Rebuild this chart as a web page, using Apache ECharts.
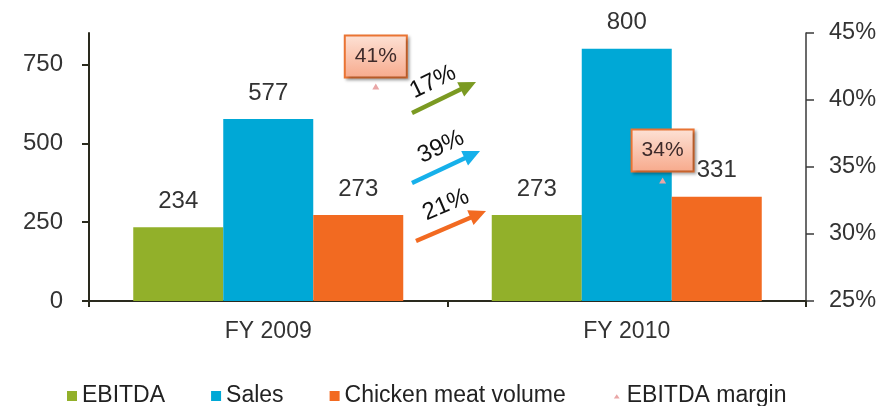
<!DOCTYPE html>
<html>
<head>
<meta charset="utf-8">
<script src="https://cdn.jsdelivr.net/npm/echarts@6/dist/echarts.min.js"></script>
<style>
html,body{margin:0;padding:0;background:#fff;}
#chart{width:885px;height:406px;}
</style>
</head>
<body>
<div id="chart"></div>
<script>
const categories = ['FY 2009', 'FY 2010'];
const ebitda = [234, 273];
const sales = [577, 800];
const chickenVolume = [273, 331];
const ebitdaMargin = [41, 34];
const growthLabels = ['17%', '39%', '21%'];
const leftTicks = [0, 250, 500, 750];
const rightTicks = [25, 30, 35, 40, 45];

const FONT = '"Liberation Sans", Arial, sans-serif';
const TXT = '#333';
const GREEN = '#92b02a', BLUE = '#00a8d6', ORANGE = '#f26a21';

const chart = echarts.init(document.getElementById('chart'), null, {renderer: 'canvas'});

const marginSlots = [0.4, 0.8];

function barLabel() {
  return {show: true, position: 'top', distance: 14, fontSize: 24, color: TXT, fontFamily: FONT};
}

function arrow(x1, y1, x2, y2, color, text, tx, ty) {
  const L = Math.hypot(x2 - x1, y2 - y1);
  const rot = Math.atan2(-(y2 - y1), x2 - x1);
  return [{
    type: 'group', x: x1, y: y1, rotation: rot,
    children: [
      {type: 'rect', shape: {x: 0, y: -2.2, width: L - 14, height: 4.4}, style: {fill: color}},
      {type: 'polygon', shape: {points: [[L - 17, -8], [L, 0], [L - 17, 8]]}, style: {fill: color}}
    ]
  }, {
    type: 'text', x: tx, y: ty, rotation: rot,
    style: {text: text, fill: '#111', font: '24px ' + FONT, align: 'center', verticalAlign: 'middle'}
  }];
}

const arrowColors = ['#7b9a22', '#16b0ea', '#f26a21'];
const graphics = [].concat(
  arrow(412, 113, 476, 82, arrowColors[0], growthLabels[0], 433, 82),
  arrow(412, 183, 480, 151, arrowColors[1], growthLabels[1], 441, 147),
  arrow(416, 241, 486, 211, arrowColors[2], growthLabels[2], 446, 205)
);

const option = {
  backgroundColor: '#fff',
  animation: false,
  textStyle: {fontFamily: FONT},
  grid: {left: 89, right: 79, top: 33, bottom: 105},
  legend: {
    left: 62, top: 379, itemWidth: 10, itemHeight: 10, itemGap: 46,
    textStyle: {fontSize: 23, color: '#222', fontFamily: FONT, lineHeight: 24},
    data: [
      {name: 'EBITDA', icon: 'rect'},
      {name: 'Sales', icon: 'rect'},
      {name: 'Chicken meat volume', icon: 'rect'},
      {name: 'EBITDA margin', icon: 'path://M0,0M2.5,9L6,4L9.5,9ZM12,12'}
    ]
  },
  xAxis: [{
    type: 'category', data: categories,
    axisLine: {show: true, lineStyle: {color: '#2a2a1e', width: 2}},
    axisTick: {show: true, length: 6, lineStyle: {color: '#2a2a1e', width: 2}},
    axisLabel: {fontSize: 23, color: TXT, margin: 19, fontFamily: FONT}
  }, {
    type: 'value', min: 0, max: 1, show: false
  }],
  yAxis: [{
    type: 'value', min: 0, max: 850, position: 'left',
    axisLine: {show: true, lineStyle: {color: '#2a2a1e', width: 2}},
    axisTick: {show: true, length: 7, customValues: leftTicks, lineStyle: {color: '#2a2a1e', width: 2}},
    axisLabel: {customValues: leftTicks, fontSize: 24, color: '#333', margin: 26, fontFamily: FONT},
    splitLine: {show: false}
  }, {
    type: 'value', min: 25, max: 45, interval: 5, position: 'right',
    axisLine: {show: true, lineStyle: {color: '#3a3a3a', width: 1.5}},
    axisTick: {show: true, inside: false, length: 8, customValues: rightTicks, lineStyle: {color: '#3a3a3a', width: 1.5}},
    axisLabel: {customValues: rightTicks, fontSize: 23.5, color: '#333', margin: 23, fontFamily: FONT, formatter: '{value}%'},
    splitLine: {show: false}
  }],
  series: [
    {name: 'EBITDA', type: 'bar', data: ebitda, barWidth: 90, barGap: '0%', itemStyle: {color: GREEN}, label: barLabel()},
    {name: 'Sales', type: 'bar', data: sales, barWidth: 90, barGap: '0%', itemStyle: {color: BLUE}, label: barLabel()},
    {name: 'Chicken meat volume', type: 'bar', data: chickenVolume, barWidth: 90, barGap: '0%', itemStyle: {color: ORANGE}, label: barLabel()},
    {
      name: 'EBITDA margin', type: 'scatter', xAxisIndex: 1, yAxisIndex: 1,
      data: ebitdaMargin.map((v, i) => [marginSlots[i], v]),
      symbol: 'triangle', symbolSize: [7, 6],
      itemStyle: {color: '#e9a6a6', opacity: 1},
      label: {
        show: true, position: 'top', distance: 7, opacity: 1,
        formatter: p => p.value[1] + '%',
        fontSize: 21, color: '#3d2a2a', fontFamily: FONT,
        backgroundColor: {type: 'linear', x: 0, y: 0, x2: 0, y2: 1, colorStops: [
          {offset: 0, color: '#fde2d6'}, {offset: 1, color: '#f7a98b'}]},
        borderColor: '#ea7433', borderWidth: 2,
        padding: [7, 9, 7, 9], lineHeight: 26,
        shadowBlur: 3, shadowColor: 'rgba(0,0,0,0.3)', shadowOffsetX: 2, shadowOffsetY: 2
      }
    }
  ],
  graphic: graphics
};

chart.setOption(option);
</script>
</body>
</html>
